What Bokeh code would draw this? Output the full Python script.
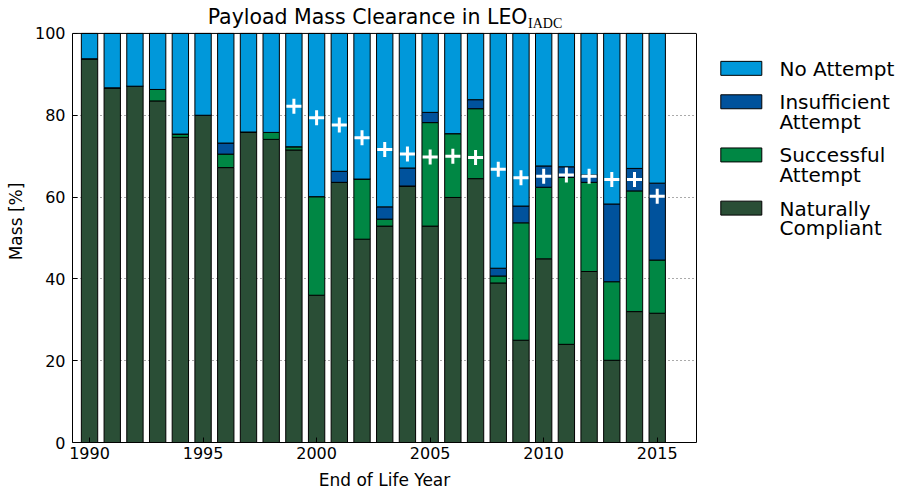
from bokeh.plotting import figure
from bokeh.models import ColumnDataSource, Range1d, FixedTicker, LinearAxis, Span
from bokeh.layouts import row
from bokeh.core.properties import value
from bokeh.embed import file_html
from bokeh.resources import INLINE

# ---------------- data ----------------
years = [1990, 1991, 1992, 1993, 1994, 1995, 1996, 1997, 1998, 1999,
         2000, 2001, 2002, 2003, 2004, 2005, 2006, 2007, 2008, 2009,
         2010, 2011, 2012, 2013, 2014, 2015]
naturally_compliant = [93.8, 86.7, 87.1, 83.5, 74.6, 80.0, 67.2, 75.9, 74.1, 71.5,
                       36.0, 63.6, 49.7, 52.9, 62.7, 52.9, 59.9, 64.5, 39.0, 25.0,
                       44.9, 24.0, 41.8, 20.1, 32.0, 31.6]
successful_attempt = [0.0, 0.0, 0.0, 2.8, 0.8, 0.0, 3.3, 0.0, 1.7, 0.8,
                      24.1, 0.0, 14.7, 1.7, 0.0, 25.3, 15.6, 17.1, 1.7, 28.7,
                      17.5, 40.8, 21.8, 19.2, 29.5, 13.0]
insufficient_attempt = [0.0, 0.0, 0.0, 0.0, 0.0, 0.0, 2.7, 0.0, 0.0, 0.0,
                        0.0, 2.7, 0.0, 3.0, 4.4, 2.5, 0.0, 2.2, 1.9, 4.1,
                        5.2, 2.6, 1.8, 19.0, 5.5, 18.8]
marker_years = [1999, 2000, 2001, 2002, 2003, 2004, 2005, 2006, 2007, 2008,
                2009, 2010, 2011, 2012, 2013, 2014, 2015]
marker_values = [82.2, 79.4, 77.6, 74.5, 71.6, 70.5, 69.8, 70.0, 69.7, 66.8,
                 64.7, 65.1, 65.4, 65.1, 64.3, 64.3, 60.2]
no_attempt = [round(100 - a - b - c, 2) for a, b, c in
              zip(naturally_compliant, successful_attempt, insufficient_attempt)]

series_keys = ["nc", "sa", "ia", "na"]
series_colors = ["#2A4E36", "#008744", "#00529C", "#0098DA"]
legend_labels = ["No Attempt", "Insufficient\nAttempt", "Successful\nAttempt",
                 "Naturally\nCompliant"]
legend_colors = ["#0098DA", "#00529C", "#008744", "#2A4E36"]
y_ticks = [0, 20, 40, 60, 80, 100]
x_ticks = [1990, 1995, 2000, 2005, 2010, 2015]
title_main = "Payload Mass Clearance in LEO"
title_sub = "IADC"

FONT = "DejaVu Sans"

# ---------------- layout constants (pixels) ----------------
MAIN_W, MAIN_H = 710, 492
BL, BR, BB = 72, 14, 49
FRAME_W = MAIN_W - BL - BR          # 624
FRAME_H = MAIN_H - BB               # 443 (frame reaches the canvas top)
AXIS_TOP_PX = 33                    # pixel row where the 100 % line sits
LEG_W = 190

X0, X1 = 1989.25, 2016.73
Y_MAX_AXIS = 100.0
Y1 = Y_MAX_AXIS * FRAME_H / (FRAME_H - AXIS_TOP_PX)   # extra headroom for the title


def px_to_x(px):
    return X0 + (px - BL) * (X1 - X0) / FRAME_W


def py_to_y(py):
    return (FRAME_H - py) * Y1 / FRAME_H


# ---------------- main plot ----------------
src = ColumnDataSource(dict(year=years, nc=naturally_compliant, sa=successful_attempt,
                            ia=insufficient_attempt, na=no_attempt))

p = figure(width=MAIN_W, height=MAIN_H, output_backend="svg", toolbar_location=None,
           title=None, x_range=Range1d(X0, X1), y_range=Range1d(0, Y1),
           min_border_left=BL, min_border_right=BR, min_border_top=0,
           min_border_bottom=BB)
p.background_fill_color = "white"
p.border_fill_color = "white"
p.outline_line_color = None

p.xgrid.visible = False
p.ygrid.grid_line_color = "#555555"
p.ygrid.grid_line_dash = "1 3"
p.ygrid.grid_line_width = 1
p.ygrid.ticker = FixedTicker(ticks=y_ticks[1:-1])

p.vbar_stack(series_keys, x="year", width=0.72, source=src, color=series_colors,
             line_color="black", line_width=1)

p.scatter(marker_years, marker_values, marker="cross", size=15,
          line_color="white", line_width=3)

# frame box limited to the 0..100 band
p.add_layout(Span(location=Y_MAX_AXIS, dimension="width", line_color="black",
                  line_width=1))
right_ax = LinearAxis(bounds=(0, Y_MAX_AXIS), ticker=FixedTicker(ticks=[]),
                      axis_line_color="black", major_tick_line_color=None,
                      minor_tick_line_color=None, major_label_text_font_size="0px",
                      major_label_standoff=0)
p.add_layout(right_ax, "right")

for ax in (p.xaxis[0], p.yaxis[0]):
    ax.axis_line_color = "black"
    ax.major_tick_line_color = "black"
    ax.major_tick_in = 5
    ax.major_tick_out = 0
    ax.minor_tick_line_color = None
    ax.major_label_text_font = FONT
    ax.major_label_text_font_size = "16px"
    ax.major_label_text_color = "black"
    ax.axis_label_text_font = FONT
    ax.axis_label_text_font_size = "17px"
    ax.axis_label_text_font_style = "normal"
    ax.axis_label_text_color = "black"

p.yaxis[0].bounds = (0, Y_MAX_AXIS)
p.xaxis.ticker = FixedTicker(ticks=x_ticks)
p.yaxis[0].ticker = FixedTicker(ticks=y_ticks)
p.xaxis.axis_label = "End of Life Year"
p.yaxis[0].axis_label = "Mass [%]"
p.xaxis.major_label_standoff = 4
p.xaxis.axis_label_standoff = 8
p.yaxis[0].major_label_standoff = 7
p.yaxis[0].axis_label_standoff = 6

# title with subscript (drawn in the headroom above 100 %)
title_join_px = 527.0
p.text([px_to_x(title_join_px)], [py_to_y(17.0)], text=[title_main],
       text_font=value(FONT), text_font_size="20.5px", text_align="right",
       text_baseline="alphabetic", text_color="black")
p.text([px_to_x(title_join_px + 0.5)], [py_to_y(23.3)], text=[title_sub],
       text_font=value("Liberation Serif"), text_font_size="14px",
       text_align="left", text_baseline="alphabetic", text_color="black")

# ---------------- legend panel (frame aligned with the main frame) ----------------
leg = figure(width=LEG_W, height=MAIN_H, output_backend="svg",
             toolbar_location=None, title=None,
             x_range=Range1d(0, LEG_W), y_range=Range1d(FRAME_H, 0),
             x_axis_location=None, y_axis_location=None,
             min_border=0, min_border_left=0, min_border_right=0,
             min_border_top=0, min_border_bottom=BB)
leg.outline_line_color = None
leg.grid.visible = False
leg.background_fill_color = "white"
leg.border_fill_color = "white"

box_x, box_w, box_h = 30.8, 41.0, 14.0
text_x = 69.0
first_y = 68.0
entry_gap = 33.5
line_h = 19.8
text_dy = 0.5

bx, by, tx, ty, tt = [], [], [], [], []
yc = first_y
for lab in legend_labels:
    lines = lab.split("\n")
    bx.append(box_x)
    by.append(yc)
    for k, ln in enumerate(lines):
        tx.append(text_x)
        ty.append(yc + text_dy + k * line_h)
        tt.append(ln)
    yc += entry_gap + line_h * (len(lines) - 1)

leg.rect(bx, by, width=box_w, height=box_h, fill_color=legend_colors,
         line_color="black", line_width=1)
leg.text(tx, ty, text=tt, text_font=value(FONT), text_font_size="20px",
         text_baseline="alphabetic", text_align="left", text_color="black")

layout = row(p, leg)
open("out.html", "w").write(file_html(layout, INLINE))
